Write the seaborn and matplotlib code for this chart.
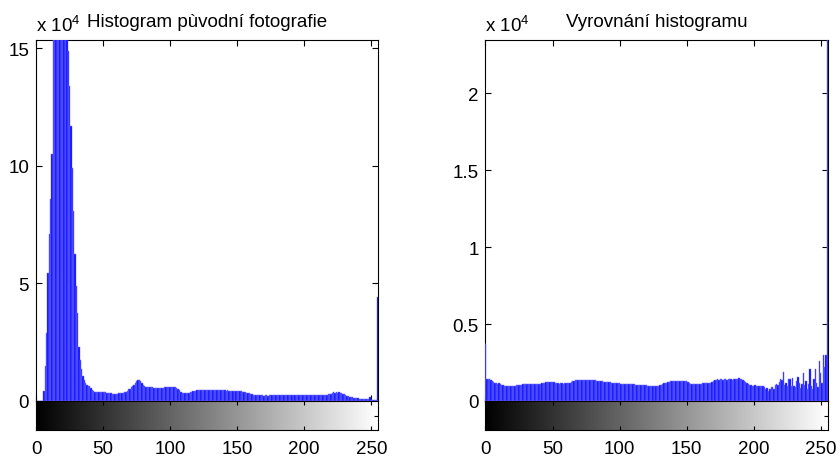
import numpy as np
import matplotlib
matplotlib.use("Agg")
import matplotlib.pyplot as plt
import seaborn as sns

# ---------------- data (counts in units of 10^4) ----------------
levels = list(range(256))

orig_counts = (
    [0, 0, 0, 0, 0, 0]
    + [0.43, 1.50, 2.91, 5.46, 7.09, 8.60, 10.49]
    + [16.5, 19.0, 21.0, 22.5, 23.0, 22.5, 21.5, 20.0, 18.5, 17.0, 15.8]
    + [14.87, 13.39, 11.69, 9.92, 8.08, 6.24, 4.89, 3.76, 2.28]
    + [1.75, 1.35, 1.05, 0.88, 0.75, 0.68, 0.64, 0.62, 0.55, 0.46, 0.42]
    + [0.40, 0.39, 0.39, 0.39, 0.40, 0.40, 0.39, 0.38]
    + [0.37, 0.36, 0.34, 0.33, 0.32]
    + [0.30, 0.30, 0.30, 0.30, 0.31, 0.32]
    + [0.33, 0.35, 0.36, 0.37, 0.39]
    + [0.43, 0.49, 0.53, 0.58, 0.63]
    + [0.70, 0.77, 0.84, 0.88, 0.89]
    + [0.86, 0.78, 0.70, 0.64, 0.61]
    + [0.60, 0.60, 0.59, 0.58, 0.58, 0.57, 0.57]
    + [0.56, 0.56, 0.56, 0.56, 0.57, 0.57, 0.58, 0.59, 0.59]
    + [0.59, 0.60, 0.60, 0.59, 0.58, 0.58, 0.57]
    + [0.52, 0.46, 0.40, 0.35, 0.32, 0.32]
    + [0.33, 0.34, 0.35, 0.37, 0.39, 0.41, 0.43]
    + [0.44, 0.45, 0.45, 0.46, 0.46, 0.46, 0.47, 0.47, 0.47]
    + [0.47, 0.47, 0.46, 0.47, 0.46, 0.47, 0.47, 0.46, 0.46, 0.46,
       0.45, 0.46, 0.45, 0.45, 0.44, 0.45, 0.44, 0.44, 0.43, 0.43]
    + [0.42, 0.42, 0.41, 0.42, 0.41, 0.41, 0.40, 0.39, 0.38]
    + [0.36, 0.35, 0.33, 0.31]
    + [0.28, 0.27, 0.26, 0.25, 0.25, 0.24, 0.24, 0.24, 0.24, 0.23,
       0.24, 0.24, 0.23, 0.24, 0.24, 0.24, 0.24, 0.25, 0.24, 0.25,
       0.25]
    + [0.25, 0.25, 0.26, 0.25, 0.26, 0.26, 0.25, 0.26, 0.26, 0.26,
       0.25, 0.26, 0.26, 0.26, 0.26, 0.25, 0.26, 0.26, 0.26, 0.26,
       0.26, 0.26, 0.25, 0.26, 0.26, 0.26, 0.26, 0.26, 0.26, 0.26,
       0.27, 0.26, 0.26, 0.27, 0.27, 0.27, 0.28, 0.30, 0.31]
    + [0.33, 0.38, 0.35, 0.40, 0.36, 0.39, 0.34, 0.32]
    + [0.30, 0.28, 0.26, 0.23, 0.20]
    + [0.18, 0.17, 0.16, 0.14]
    + [0.12, 0.11, 0.11, 0.10, 0.10, 0.09]
    + [0.08, 0.07, 0.07, 0.07, 0.07]
    + [0.16, 0.06, 0.06, 0.05, 0.05, 0.05]
    + [4.43]
)

eq_counts = [
    0.37,
    0.145, 0.145, 0.140, 0.135, 0.130, 0.125, 0.115, 0.114, 0.113, 0.120,
    0.110, 0.107, 0.105, 0.100, 0.097, 0.096, 0.095, 0.097, 0.100, 0.096,
    0.097, 0.100, 0.103, 0.105, 0.104, 0.106, 0.105, 0.108, 0.111, 0.110,
    0.111, 0.112, 0.110, 0.111, 0.112, 0.111, 0.110, 0.111, 0.112, 0.111,
    0.113, 0.118, 0.118, 0.120, 0.124, 0.125, 0.123, 0.124, 0.125, 0.124,
    0.123, 0.120, 0.116, 0.114, 0.113, 0.114, 0.115, 0.113, 0.114, 0.115,
    0.114, 0.116, 0.118, 0.125, 0.129, 0.132, 0.135, 0.136, 0.134, 0.135,
    0.136, 0.135, 0.134, 0.135, 0.136, 0.134, 0.135, 0.135, 0.136, 0.134,
    0.135, 0.134, 0.133, 0.130, 0.129, 0.128, 0.127, 0.126, 0.124, 0.125,
    0.124, 0.123, 0.121, 0.119, 0.118, 0.118, 0.119, 0.118, 0.117, 0.116,
    0.113, 0.111, 0.111, 0.112, 0.110, 0.111, 0.110, 0.111, 0.110, 0.109,
    0.108, 0.107, 0.107, 0.106, 0.107, 0.106, 0.105, 0.104, 0.102, 0.101,
    0.100, 0.100, 0.099, 0.098, 0.097, 0.096, 0.096, 0.097, 0.100, 0.104,
    0.107, 0.110, 0.114, 0.117, 0.118, 0.122, 0.126, 0.128, 0.129, 0.129,
    0.130, 0.129, 0.128, 0.129, 0.130, 0.129, 0.128, 0.129, 0.128, 0.127,
    0.124, 0.118, 0.113, 0.111, 0.110, 0.111, 0.112, 0.111, 0.110, 0.111,
    0.112, 0.115, 0.118, 0.117, 0.118, 0.119, 0.118, 0.120, 0.124, 0.130,
    0.134, 0.138, 0.140, 0.139, 0.141, 0.140, 0.139, 0.141, 0.140, 0.139,
    0.140, 0.141, 0.140, 0.139, 0.141, 0.142, 0.140, 0.146, 0.147, 0.146,
    0.140, 0.135, 0.128, 0.122, 0.118, 0.112, 0.105, 0.101, 0.100, 0.099,
    0.101, 0.100, 0.098, 0.100, 0.099, 0.098, 0.095, 0.090, 0.075, 0.082,
    0.064, 0.080, 0.092, 0.088, 0.080, 0.105, 0.108, 0.106, 0.122, 0.140,
    0.135, 0.190, 0.107, 0.118, 0.100, 0.140, 0.142, 0.100, 0.150, 0.095,
    0.090, 0.130, 0.155, 0.120, 0.085, 0.110, 0.184, 0.107, 0.130, 0.075,
    0.110, 0.209, 0.095, 0.075, 0.140, 0.209, 0.120, 0.090, 0.259, 0.184,
    0.120, 0.296, 0.220, 0.300, 3.000,
]

assert len(orig_counts) == 256, len(orig_counts)
assert len(eq_counts) == 256, len(eq_counts)

titles = ["Histogram pùvodní fotografie", "Vyrovnání histogramu"]
orig_yticks = [0, 5, 10, 15]
orig_yticklabels = ["0", "5", "10", "15"]
eq_yticks = [0, 0.5, 1, 1.5, 2]
eq_yticklabels = ["0", "0.5", "1", "1.5", "2"]
xticks = [0, 50, 100, 150, 200, 250]
xticklabels = ["0", "50", "100", "150", "200", "250"]
orig_ymax = 15.35
eq_ymax = 2.347
exponent_label = r"x $\mathregular{10^4}$"

# ---------------- style ----------------
sns.set_theme(style="white")
plt.rcParams["font.family"] = ["Liberation Sans", "DejaVu Sans"]
FS = 13.5

fig = plt.figure(figsize=(8.4, 4.6), dpi=100)

panels = [
    dict(x0=36 / 840, counts=orig_counts, ymax=orig_ymax,
         yticks=orig_yticks, ylabels=orig_yticklabels, title=titles[0]),
    dict(x0=485.5 / 840, counts=eq_counts, ymax=eq_ymax,
         yticks=eq_yticks, ylabels=eq_yticklabels, title=titles[1]),
]

W = 342 / 840
H_BOT = (460 - 402) / 460
H_H = 361 / 460
G_BOT = (460 - 431) / 460
G_H = 29 / 460

for p in panels:
    ax = fig.add_axes([p["x0"], H_BOT, W, H_H])
    sns.histplot(x=levels, weights=p["counts"], discrete=True, shrink=1.0,
                 color="#0000ff", alpha=1.0, edgecolor="#7a7aff",
                 linewidth=0.35, ax=ax, zorder=3)
    ax.set_xlim(0, 255)
    ax.set_ylim(0, p["ymax"])
    ax.set_xticks(xticks)
    ax.set_yticks(p["yticks"])
    ax.set_yticklabels(p["ylabels"])
    ax.set_xlabel("")
    ax.set_ylabel("")
    ax.tick_params(direction="in", length=4, width=0.8, top=True, right=True,
                   bottom=True, left=True, labelbottom=False,
                   labelsize=FS, colors="black", pad=5)
    for s in ax.spines.values():
        s.set_color("black")
        s.set_linewidth(0.8)
        s.set_zorder(1)
    ax.text(0.5, 1.039, p["title"], transform=ax.transAxes, ha="center",
            va="baseline", fontsize=FS, color="black")
    ax.text(0.0, 1.024, exponent_label, transform=ax.transAxes, ha="left",
            va="baseline", fontsize=FS, color="black")

    axg = fig.add_axes([p["x0"], G_BOT, W, G_H])
    axg.imshow(np.array(levels)[None, :], cmap="gray", aspect="auto",
               extent=[-0.5, 255.5, 0, 1], vmin=0, vmax=255,
               interpolation="bilinear")
    axg.set_xlim(0, 255)
    axg.set_ylim(0, 1)
    axg.set_xticks(xticks)
    axg.set_xticklabels(xticklabels)
    axg.set_yticks([0.5])
    axg.set_yticklabels([])
    axg.grid(False)
    axg.tick_params(direction="in", length=3, width=0.8, top=True, right=True,
                    bottom=True, left=True, labelsize=FS, colors="black",
                    pad=7)
    for s in axg.spines.values():
        s.set_color("black")
        s.set_linewidth(0.8)

fig.savefig("out.png", dpi=100, facecolor="white")
